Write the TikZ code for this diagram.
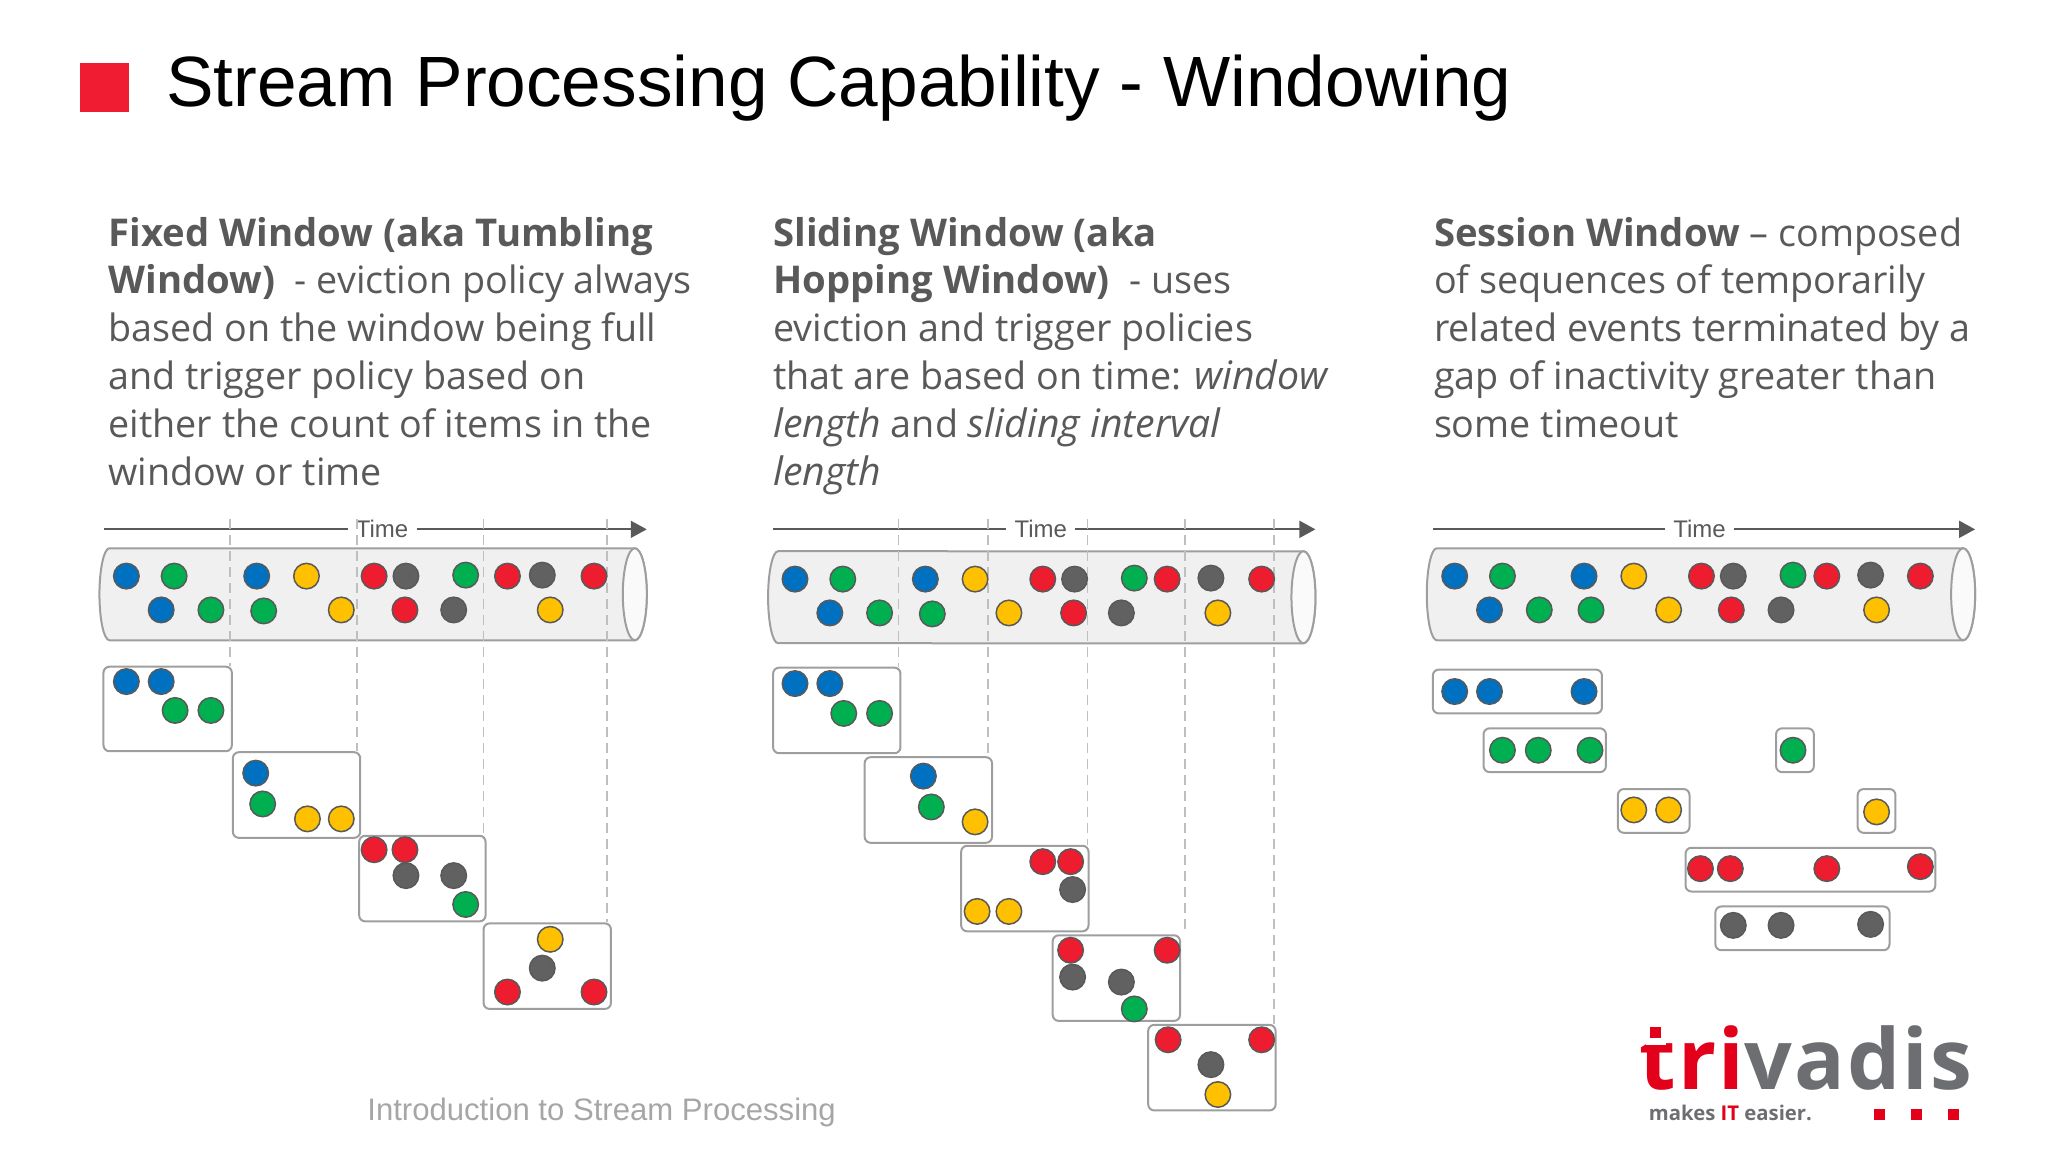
\documentclass[tikz,border=0pt]{standalone}
\usepackage{fontspec}
\setmainfont[BoldFeatures={Scale=1.015},ItalicFeatures={Scale=1.04}]{Open Sans}
\newfontfamily\headfont{Liberation Sans}
\newfontfamily\logofont[LetterSpace=2.5]{Open Sans}
\usetikzlibrary{fit,arrows.meta}
\definecolor{inkgrey}{HTML}{595959}
\definecolor{logored}{HTML}{E2001A}
\definecolor{logogrey}{HTML}{6D6E71}
\begin{document}
\begin{tikzpicture}[x=0.995pt,y=-0.995pt]
\tikzstyle{dot}=[circle, minimum size = 25.5pt, inner sep=0pt, line width=1.5pt, draw=inkgrey]
\tikzstyle{dotb}=[dot, fill={rgb,255:red,0;green,112;blue,192}]
\tikzstyle{dotg}=[dot, fill={rgb,255:red,0;green,176;blue,80}]
\tikzstyle{doty}=[dot, fill={rgb,255:red,255;green,192;blue,0}]
\tikzstyle{dotr}=[dot, fill={rgb,255:red,237;green,28;blue,46}]
\tikzstyle{dotk}=[dot, fill=black!62]
\tikzstyle{tube}=[line width=2pt, draw=black!38, fill=black!6]
\tikzstyle{tubeend}=[line width=2pt, draw=black!38, fill=black!2]
\tikzstyle{win}=[rectangle, inner sep=0pt, rounded corners=6pt, line width=2pt, draw=black!38, fill=white]
\tikzstyle{cut}=[dashed, dash pattern=on 10pt off 6pt, line width=1.8pt, draw=black!25]
\tikzstyle{axis}=[line width=1.8pt, draw=inkgrey]
\tikzstyle{axistip}=[axis, -{Triangle[length=16pt,width=17pt]}]
\tikzstyle{timelab}=[font=\headfont\fontsize{24}{24}\selectfont, text=inkgrey, inner sep=8pt]
\tikzstyle{body}=[anchor=north west, inner sep=0pt, align=left, text=inkgrey, font=\fontsize{37.7}{47.8}\selectfont]
\tikzstyle{logosq}=[rectangle, fill=logored, minimum size=11pt, inner sep=0pt]
\useasboundingbox (0pt,0pt) rectangle (2048pt,-1152pt);
	\node[rectangle, fill={rgb,255:red,240;green,28;blue,50}, minimum size=49pt, inner sep=0pt] (mark) at (105.5,87.5) { };
	\node[anchor=base west, inner sep=0pt, font=\headfont\fontsize{71.2}{72}\selectfont] (title) at (167,107) {Stream Processing Capability - Windowing};
	\node[body] (text1) at (109,218) {\textbf{Fixed Window (aka Tumbling}\\\textbf{Window)}\ \ - eviction policy always\\based on the window being full\\and trigger policy based on\\either the count of items in the\\window or time};
	\node[body] (text2) at (777,218) {\textbf{Sliding Window (aka}\\\textbf{Hopping Window)}\ \ - uses\\eviction and trigger policies\\that are based on time: \textit{window}\\\textit{length} and \textit{sliding interval}\\\textit{length}};
	\node[body] (text3) at (1441,218) {\textbf{Session Window} -- composed\\of sequences of temporarily\\related events terminated by a\\gap of inactivity greater than\\some timeout};
	\node[anchor=base west, inner sep=0pt, text=black!35, font=\headfont\fontsize{31.1}{32}\selectfont] (footer) at (369,1126) {Introduction to Stream Processing};

	\draw[tube] (110,551) arc[start angle=90,end angle=270,x radius=10pt,y radius=46pt] -- (638,643.5) arc[start angle=-90,end angle=90,x radius=12pt,y radius=46pt] -- cycle;
	\draw[tubeend] (638,597.2) circle[x radius=12pt,y radius=46pt];
	\coordinate (from1) at (105,532);
	\coordinate (to1) at (650,532);
	\node[timelab] (time1) at (384,532) {Time};
	\path (from1) edge [axis] (time1.west);
	\path (time1.east) edge [axistip] (to1);
	\node[win, fit={(104,670) (233,755)}] (w1) { };
	\node[win, fit={(234,756) (362,842)}] (w2) { };
	\node[win, fit={(361,840) (488,926)}] (w3) { };
	\node[win, fit={(486,928) (614,1014)}] (w4) { };
	\coordinate (c1) at (231,522);
	\coordinate (c2) at (359,522);
	\coordinate (c3) at (486,522);
	\coordinate (c4) at (610,522);
	\path (c1) edge [cut] (c1 |- w1.north);
	\path (c2) edge [cut] (c2 |- w2.north);
	\path (c3) edge [cut] (c3 |- w3.north);
	\path (c4) edge [cut] (c4 |- w4.north);
	\node[dotb] (a1) at (127,579) { };
	\node[dotg] (a2) at (175,579) { };
	\node[dotb] (a3) at (162,613) { };
	\node[dotg] (a4) at (212,613) { };
	\node[dotb] (a5) at (258,579) { };
	\node[doty] (a6) at (308,579) { };
	\node[dotg] (a7) at (265,614) { };
	\node[doty] (a8) at (343,613) { };
	\node[dotr] (a9) at (376,579) { };
	\node[dotk] (a10) at (408,579) { };
	\node[dotg] (a11) at (468,578) { };
	\node[dotr] (a12) at (407,613) { };
	\node[dotk] (a13) at (456,613) { };
	\node[dotr] (a14) at (510,579) { };
	\node[dotk] (a15) at (545,578) { };
	\node[dotr] (a16) at (597,579) { };
	\node[doty] (a17) at (553,613) { };
	\node[dotb] (a18) at (127,685) { };
	\node[dotb] (a19) at (162,685) { };
	\node[dotg] (a20) at (176,714) { };
	\node[dotg] (a21) at (212,714) { };
	\node[dotb] (a22) at (257,777) { };
	\node[dotg] (a23) at (264,808) { };
	\node[doty] (a24) at (309,823) { };
	\node[doty] (a25) at (343,823) { };
	\node[dotr] (a26) at (376,854) { };
	\node[dotr] (a27) at (407,854) { };
	\node[dotk] (a28) at (408,880) { };
	\node[dotk] (a29) at (456,880) { };
	\node[dotg] (a30) at (468,909) { };
	\node[doty] (a31) at (553,944) { };
	\node[dotk] (a32) at (545,973) { };
	\node[dotr] (a33) at (510,997) { };
	\node[dotr] (a34) at (597,997) { };

	\draw[tube] (782,554) arc[start angle=90,end angle=270,x radius=10pt,y radius=46pt] -- (1310,646.5) arc[start angle=-90,end angle=90,x radius=12pt,y radius=46pt] -- cycle;
	\draw[tubeend] (1310,600.2) circle[x radius=12pt,y radius=46pt];
	\coordinate (from2) at (777,532);
	\coordinate (to2) at (1322,532);
	\node[timelab] (time2) at (1046,532) {Time};
	\path (from2) edge [axis] (time2.west);
	\path (time2.east) edge [axistip] (to2);
	\node[win, fit={(777,671) (905,757)}] (v1) { };
	\node[win, fit={(869,761) (997,847)}] (v2) { };
	\node[win, fit={(966,850) (1094,936)}] (v3) { };
	\node[win, fit={(1058,940) (1186,1026)}] (v4) { };
	\node[win, fit={(1154,1030) (1282,1116)}] (v5) { };
	\coordinate (d1) at (903,522);
	\coordinate (d2) at (993,522);
	\coordinate (d3) at (1093,522);
	\coordinate (d4) at (1191,522);
	\coordinate (d5) at (1280,522);
	\path (d1) edge [cut] (d1 |- v1.north);
	\path (d2) edge [cut] (d2 |- v2.north);
	\path (d3) edge [cut] (d3 |- v3.north);
	\path (d4) edge [cut] (d4 |- v4.north);
	\path (d5) edge [cut] (d5 |- v5.north);
	\node[dotb] (b1) at (799,582) { };
	\node[dotg] (b2) at (847,582) { };
	\node[dotb] (b3) at (834,616) { };
	\node[dotg] (b4) at (884,616) { };
	\node[dotb] (b5) at (930,582) { };
	\node[doty] (b6) at (980,582) { };
	\node[dotg] (b7) at (937,617) { };
	\node[doty] (b8) at (1014,616) { };
	\node[dotr] (b9) at (1048,582) { };
	\node[dotk] (b10) at (1080,582) { };
	\node[dotr] (b11) at (1079,616) { };
	\node[dotg] (b12) at (1140,581) { };
	\node[dotr] (b13) at (1173,582) { };
	\node[dotk] (b14) at (1127,616) { };
	\node[dotk] (b15) at (1217,581) { };
	\node[dotr] (b16) at (1268,582) { };
	\node[doty] (b17) at (1224,616) { };
	\node[dotb] (b18) at (799,687) { };
	\node[dotb] (b19) at (834,687) { };
	\node[dotg] (b20) at (848,717) { };
	\node[dotg] (b21) at (884,717) { };
	\node[dotb] (b22) at (928,780) { };
	\node[dotg] (b23) at (936,811) { };
	\node[doty] (b24) at (980,826) { };
	\node[dotr] (b25) at (1048,866) { };
	\node[dotr] (b26) at (1076,866) { };
	\node[dotk] (b27) at (1078,894) { };
	\node[doty] (b28) at (982,916) { };
	\node[doty] (b29) at (1014,916) { };
	\node[dotr] (b30) at (1076,955) { };
	\node[dotr] (b31) at (1173,955) { };
	\node[dotk] (b32) at (1078,982) { };
	\node[dotk] (b33) at (1127,987) { };
	\node[dotg] (b34) at (1140,1014) { };
	\node[dotr] (b35) at (1174,1045) { };
	\node[dotr] (b36) at (1268,1045) { };
	\node[dotk] (b37) at (1217,1070) { };
	\node[doty] (b38) at (1224,1100) { };

	\draw[tube] (1444,551) arc[start angle=90,end angle=270,x radius=10pt,y radius=46pt] -- (1973,643.5) arc[start angle=-90,end angle=90,x radius=12pt,y radius=46pt] -- cycle;
	\draw[tubeend] (1973,597.2) circle[x radius=12pt,y radius=46pt];
	\coordinate (from3) at (1440,532);
	\coordinate (to3) at (1985,532);
	\node[timelab] (time3) at (1708,532) {Time};
	\path (from3) edge [axis] (time3.west);
	\path (time3.east) edge [axistip] (to3);
	\node[win, fit={(1440,673) (1610,717)}] (s1) { };
	\node[win, fit={(1491,732) (1614,776)}] (s2) { };
	\node[win, fit={(1785,732) (1823,776)}] (s3) { };
	\node[win, fit={(1626,793) (1698,837)}] (s4) { };
	\node[win, fit={(1867,793) (1905,837)}] (s5) { };
	\node[win, fit={(1694,852) (1945,896)}] (s6) { };
	\node[win, fit={(1724,911) (1899,955)}] (s7) { };
	\node[dotb] (e1) at (1462,579) { };
	\node[dotg] (e2) at (1510,579) { };
	\node[dotb] (e3) at (1497,613) { };
	\node[dotg] (e4) at (1547,613) { };
	\node[dotg] (e5) at (1599,613) { };
	\node[dotb] (e6) at (1592,579) { };
	\node[doty] (e7) at (1642,579) { };
	\node[doty] (e8) at (1677,613) { };
	\node[dotr] (e9) at (1710,579) { };
	\node[dotk] (e10) at (1742,579) { };
	\node[dotr] (e11) at (1740,613) { };
	\node[dotk] (e12) at (1790,613) { };
	\node[dotg] (e13) at (1802,578) { };
	\node[dotr] (e14) at (1836,579) { };
	\node[dotk] (e15) at (1880,578) { };
	\node[dotr] (e16) at (1930,579) { };
	\node[doty] (e17) at (1886,613) { };
	\node[dotb] (e18) at (1462,695) { };
	\node[dotb] (e19) at (1497,695) { };
	\node[dotb] (e20) at (1592,695) { };
	\node[dotg] (e21) at (1510,754) { };
	\node[dotg] (e22) at (1546,754) { };
	\node[dotg] (e23) at (1598,754) { };
	\node[dotg] (e24) at (1802,754) { };
	\node[doty] (e25) at (1642,814) { };
	\node[doty] (e26) at (1677,814) { };
	\node[doty] (e27) at (1886,816) { };
	\node[dotr] (e28) at (1709,873) { };
	\node[dotr] (e29) at (1739,873) { };
	\node[dotr] (e30) at (1836,873) { };
	\node[dotr] (e31) at (1930,871) { };
	\node[dotk] (e32) at (1742,930) { };
	\node[dotk] (e33) at (1790,930) { };
	\node[dotk] (e34) at (1880,929) { };

	\node[anchor=base west, inner sep=0pt, text=logogrey, font=\logofont\bfseries\fontsize{84}{84}\selectfont] (logo) at (1648,1095) {\textcolor{logored}{tri}vadis};
	\node[rectangle, fill=white, minimum width=20pt, minimum height=7pt, inner sep=0pt] (tgap) at (1664,1046.7) { };
	\node[logosq] (tdot) at (1664,1037.7) { };
	\node[anchor=base west, inner sep=0pt, text=logogrey, font=\bfseries\fontsize{20}{20}\selectfont] (slogan) at (1657,1126) {makes \textcolor{logored}{IT} easier.};
	\node[logosq] (sq1) at (1889,1120) { };
	\node[logosq] (sq2) at (1926,1120) { };
	\node[logosq] (sq3) at (1963,1120) { };
\end{tikzpicture}
\end{document}
